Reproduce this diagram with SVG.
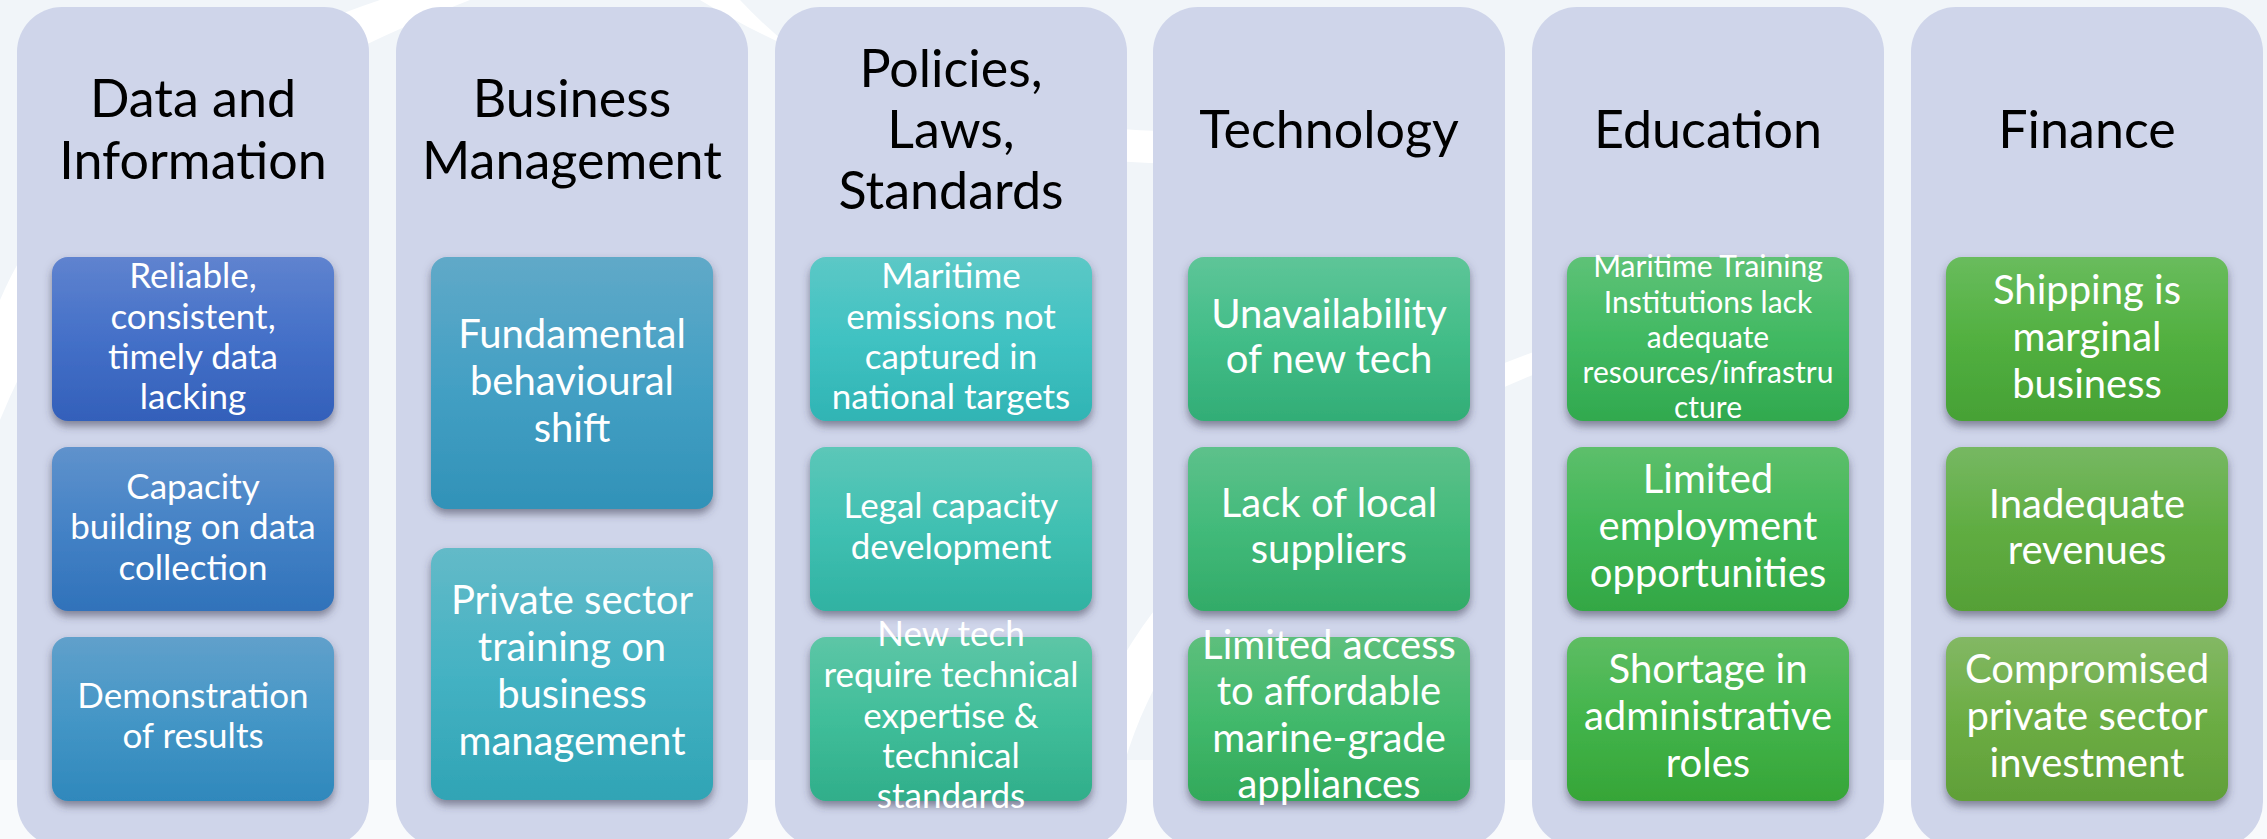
<svg xmlns="http://www.w3.org/2000/svg" width="2267" height="839" viewBox="0 0 2267 839">
<style>
.col{fill:#CFD5EA;}
.title{font-family:Lato,"Liberation Sans",sans-serif;font-size:52px;fill:#000;text-anchor:middle;}
.t{font-family:Lato,"Liberation Sans",sans-serif;fill:#fff;text-anchor:middle;}
.s{font-size:35px;}
.m{font-size:40px;}
.x{font-size:30px;}
.box{filter:url(#sh);}
</style>
<defs>
<filter id="sh" x="-10%" y="-10%" width="120%" height="130%">
<feDropShadow dx="0" dy="5" stdDeviation="4" flood-color="#3a3a50" flood-opacity="0.55"/>
</filter>
<linearGradient id="g11" x1="0" y1="0" x2="0" y2="1"><stop offset="0" stop-color="#5F83CF"/><stop offset="0.5" stop-color="#4470C8"/><stop offset="1" stop-color="#3360BA"/></linearGradient>
<linearGradient id="g12" x1="0" y1="0" x2="0" y2="1"><stop offset="0" stop-color="#5F92CC"/><stop offset="0.5" stop-color="#4482C6"/><stop offset="1" stop-color="#3072BA"/></linearGradient>
<linearGradient id="g13" x1="0" y1="0" x2="0" y2="1"><stop offset="0" stop-color="#60A0CB"/><stop offset="0.5" stop-color="#4496C6"/><stop offset="1" stop-color="#2F88BC"/></linearGradient>
<linearGradient id="g21" x1="0" y1="0" x2="0" y2="1"><stop offset="0" stop-color="#60A9C8"/><stop offset="0.5" stop-color="#44A0C4"/><stop offset="1" stop-color="#3192B8"/></linearGradient>
<linearGradient id="g22" x1="0" y1="0" x2="0" y2="1"><stop offset="0" stop-color="#63BAC8"/><stop offset="0.5" stop-color="#44B2C3"/><stop offset="1" stop-color="#30A4B5"/></linearGradient>
<linearGradient id="g31" x1="0" y1="0" x2="0" y2="1"><stop offset="0" stop-color="#5CC8C6"/><stop offset="0.5" stop-color="#40C2C2"/><stop offset="1" stop-color="#30B4B4"/></linearGradient>
<linearGradient id="g32" x1="0" y1="0" x2="0" y2="1"><stop offset="0" stop-color="#5CC7B8"/><stop offset="0.5" stop-color="#40C0B2"/><stop offset="1" stop-color="#30B2A2"/></linearGradient>
<linearGradient id="g33" x1="0" y1="0" x2="0" y2="1"><stop offset="0" stop-color="#5DC6A6"/><stop offset="0.5" stop-color="#40BE9A"/><stop offset="1" stop-color="#30AE8A"/></linearGradient>
<linearGradient id="g41" x1="0" y1="0" x2="0" y2="1"><stop offset="0" stop-color="#5EC598"/><stop offset="0.5" stop-color="#42BD88"/><stop offset="1" stop-color="#32AD76"/></linearGradient>
<linearGradient id="g42" x1="0" y1="0" x2="0" y2="1"><stop offset="0" stop-color="#5DC18B"/><stop offset="0.5" stop-color="#42BA7A"/><stop offset="1" stop-color="#32AB68"/></linearGradient>
<linearGradient id="g43" x1="0" y1="0" x2="0" y2="1"><stop offset="0" stop-color="#5DBF7C"/><stop offset="0.5" stop-color="#42B96C"/><stop offset="1" stop-color="#32A95A"/></linearGradient>
<linearGradient id="g51" x1="0" y1="0" x2="0" y2="1"><stop offset="0" stop-color="#5EC277"/><stop offset="0.5" stop-color="#41B962"/><stop offset="1" stop-color="#31A94E"/></linearGradient>
<linearGradient id="g52" x1="0" y1="0" x2="0" y2="1"><stop offset="0" stop-color="#5DBF6B"/><stop offset="0.5" stop-color="#40B656"/><stop offset="1" stop-color="#33A744"/></linearGradient>
<linearGradient id="g53" x1="0" y1="0" x2="0" y2="1"><stop offset="0" stop-color="#5EBD63"/><stop offset="0.5" stop-color="#42B44B"/><stop offset="1" stop-color="#36A537"/></linearGradient>
<linearGradient id="g61" x1="0" y1="0" x2="0" y2="1"><stop offset="0" stop-color="#69BC5D"/><stop offset="0.5" stop-color="#52B040"/><stop offset="1" stop-color="#46A135"/></linearGradient>
<linearGradient id="g62" x1="0" y1="0" x2="0" y2="1"><stop offset="0" stop-color="#76B862"/><stop offset="0.5" stop-color="#60AD42"/><stop offset="1" stop-color="#55A036"/></linearGradient>
<linearGradient id="g63" x1="0" y1="0" x2="0" y2="1"><stop offset="0" stop-color="#83B864"/><stop offset="0.5" stop-color="#6CAD44"/><stop offset="1" stop-color="#609F38"/></linearGradient>
</defs>

<g id="background">
<rect x="0" y="0" width="2267" height="839" fill="#F1F5F9"/>
<path d="M0 300 C 60 160 200 60 380 0 L 470 0 C 260 80 90 200 0 420 Z" fill="#FFFFFF"/>
<path d="M700 0 C 900 120 1100 140 1300 130 L 1300 160 C 1080 175 880 150 740 0 Z" fill="#FFFFFF"/>
<path d="M1060 839 C 1090 600 1300 420 1600 330 L 1600 350 C 1330 440 1130 620 1110 839 Z" fill="#FFFFFF"/>
<rect x="0" y="760" width="2267" height="79" fill="#FFFFFF" opacity="0.5"/>
</g>

<g id="col1">
<rect class="col" x="17" y="7" width="352" height="840" rx="45"/>
<text class="title" x="193"><tspan x="193" y="117">Data and</tspan><tspan x="193" y="179">Information</tspan></text>
<rect class="box" x="52" y="257" width="282" height="164" rx="16" fill="url(#g11)"/>
<text class="t s"><tspan x="193" y="288">Reliable,</tspan><tspan x="193" y="329">consistent,</tspan><tspan x="193" y="369">timely data</tspan><tspan x="193" y="409">lacking</tspan></text>
<rect class="box" x="52" y="447" width="282" height="164" rx="16" fill="url(#g12)"/>
<text class="t s"><tspan x="193" y="499">Capacity</tspan><tspan x="193" y="539">building on data</tspan><tspan x="193" y="580">collection</tspan></text>
<rect class="box" x="52" y="637" width="282" height="164" rx="16" fill="url(#g13)"/>
<text class="t s"><tspan x="193" y="708">Demonstration</tspan><tspan x="193" y="748">of results</tspan></text>
</g>

<g id="col2">
<rect class="col" x="396" y="7" width="352" height="840" rx="45"/>
<text class="title"><tspan x="572" y="117">Business</tspan><tspan x="572" y="179">Management</tspan></text>
<rect class="box" x="431" y="257" width="282" height="252" rx="16" fill="url(#g21)"/>
<text class="t m"><tspan x="572" y="348">Fundamental</tspan><tspan x="572" y="395">behavioural</tspan><tspan x="572" y="442">shift</tspan></text>
<rect class="box" x="431" y="548" width="282" height="252" rx="16" fill="url(#g22)"/>
<text class="t m"><tspan x="572" y="614">Private sector</tspan><tspan x="572" y="661">training on</tspan><tspan x="572" y="708">business</tspan><tspan x="572" y="755">management</tspan></text>
</g>

<g id="col3">
<rect class="col" x="775" y="7" width="352" height="840" rx="45"/>
<text class="title"><tspan x="951" y="87">Policies,</tspan><tspan x="951" y="148">Laws,</tspan><tspan x="951" y="209">Standards</tspan></text>
<rect class="box" x="810" y="257" width="282" height="164" rx="16" fill="url(#g31)"/>
<text class="t s"><tspan x="951" y="288">Maritime</tspan><tspan x="951" y="329">emissions not</tspan><tspan x="951" y="369">captured in</tspan><tspan x="951" y="409">national targets</tspan></text>
<rect class="box" x="810" y="447" width="282" height="164" rx="16" fill="url(#g32)"/>
<text class="t s"><tspan x="951" y="518">Legal capacity</tspan><tspan x="951" y="559">development</tspan></text>
<rect class="box" x="810" y="637" width="282" height="164" rx="16" fill="url(#g33)"/>
<text class="t s"><tspan x="951" y="646">New tech</tspan><tspan x="951" y="687">require technical</tspan><tspan x="951" y="728">expertise &amp;</tspan><tspan x="951" y="768">technical</tspan><tspan x="951" y="808">standards</tspan></text>
</g>

<g id="col4">
<rect class="col" x="1153" y="7" width="352" height="840" rx="45"/>
<text class="title"><tspan x="1329" y="148">Technology</tspan></text>
<rect class="box" x="1188" y="257" width="282" height="164" rx="16" fill="url(#g41)"/>
<text class="t m"><tspan x="1329" y="328">Unavailability</tspan><tspan x="1329" y="373">of new tech</tspan></text>
<rect class="box" x="1188" y="447" width="282" height="164" rx="16" fill="url(#g42)"/>
<text class="t m"><tspan x="1329" y="517">Lack of local</tspan><tspan x="1329" y="563">suppliers</tspan></text>
<rect class="box" x="1188" y="637" width="282" height="164" rx="16" fill="url(#g43)"/>
<text class="t m"><tspan x="1329" y="659">Limited access</tspan><tspan x="1329" y="705">to affordable</tspan><tspan x="1329" y="752">marine-grade</tspan><tspan x="1329" y="798">appliances</tspan></text>
</g>

<g id="col5">
<rect class="col" x="1532" y="7" width="352" height="840" rx="45"/>
<text class="title"><tspan x="1708" y="148">Education</tspan></text>
<rect class="box" x="1567" y="257" width="282" height="164" rx="16" fill="url(#g51)"/>
<text class="t x"><tspan x="1708" y="277">Maritime Training</tspan><tspan x="1708" y="313">Institutions lack</tspan><tspan x="1708" y="348">adequate</tspan><tspan x="1708" y="383">resources/infrastru</tspan><tspan x="1708" y="418">cture</tspan></text>
<rect class="box" x="1567" y="447" width="282" height="164" rx="16" fill="url(#g52)"/>
<text class="t m"><tspan x="1708" y="493">Limited</tspan><tspan x="1708" y="540">employment</tspan><tspan x="1708" y="587">opportunities</tspan></text>
<rect class="box" x="1567" y="637" width="282" height="164" rx="16" fill="url(#g53)"/>
<text class="t m"><tspan x="1708" y="683">Shortage in</tspan><tspan x="1708" y="730">administrative</tspan><tspan x="1708" y="777">roles</tspan></text>
</g>

<g id="col6">
<rect class="col" x="1911" y="7" width="352" height="840" rx="45"/>
<text class="title"><tspan x="2087" y="148">Finance</tspan></text>
<rect class="box" x="1946" y="257" width="282" height="164" rx="16" fill="url(#g61)"/>
<text class="t m"><tspan x="2087" y="304">Shipping is</tspan><tspan x="2087" y="351">marginal</tspan><tspan x="2087" y="398">business</tspan></text>
<rect class="box" x="1946" y="447" width="282" height="164" rx="16" fill="url(#g62)"/>
<text class="t m"><tspan x="2087" y="518">Inadequate</tspan><tspan x="2087" y="564">revenues</tspan></text>
<rect class="box" x="1946" y="637" width="282" height="164" rx="16" fill="url(#g63)"/>
<text class="t m"><tspan x="2087" y="683">Compromised</tspan><tspan x="2087" y="730">private sector</tspan><tspan x="2087" y="777">investment</tspan></text>
</g>

<g id="connectors"></g>
</svg>
